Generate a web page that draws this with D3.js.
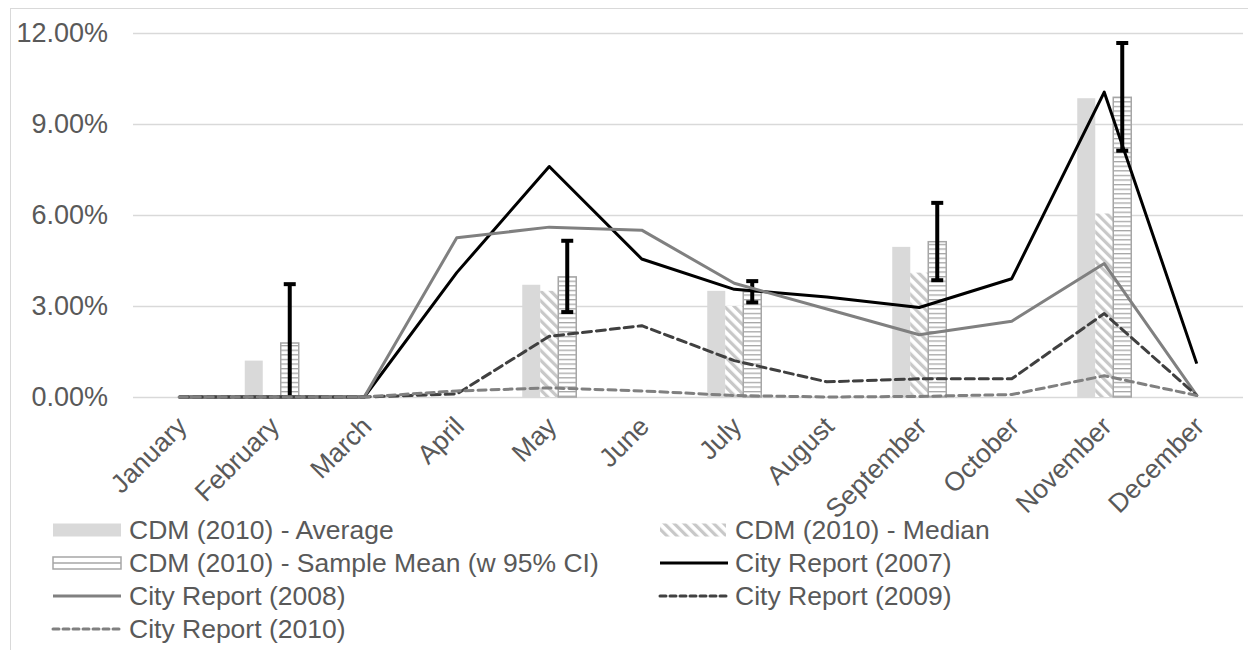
<!DOCTYPE html>
<html>
<head>
<meta charset="utf-8">
<script src="https://cdn.jsdelivr.net/npm/d3@7"></script>
<style>
  html, body { margin: 0; padding: 0; background: #fff; }
  svg { display: block; }
  text { font-family: "Liberation Sans", Arial, sans-serif; fill: #595959; }
</style>
</head>
<body>
<svg id="chart" width="1248" height="650"></svg>
<script>
// Monthly shares (%) by source
const months = ["January", "February", "March", "April", "May", "June", "July",
  "August", "September", "October", "November", "December"];

const cdmAverage    = [0, 1.2, 0, 0, 3.7, 0, 3.5, 0, 4.95, 0, 9.85, 0];
const cdmMedian     = [0, 0, 0, 0, 3.5, 0, 3.0, 0, 4.1, 0, 6.05, 0];
const cdmSampleMean = [0, 1.78, 0, 0, 3.96, 0, 3.47, 0, 5.12, 0, 9.88, 0];
const ciLower       = [null, 0, null, null, 2.8, null, 3.12, null, 3.85, null, 8.12, null];
const ciUpper       = [null, 3.72, null, null, 5.15, null, 3.82, null, 6.4, null, 11.67, null];

const city2007 = [0, 0, 0, 4.1, 7.6, 4.55, 3.55, 3.3, 2.95, 3.9, 10.05, 1.1];
const city2008 = [0, 0, 0, 5.25, 5.6, 5.5, 3.75, 2.9, 2.05, 2.5, 4.4, 0.05];
const city2009 = [0, 0, 0, 0.1, 2.0, 2.35, 1.2, 0.5, 0.6, 0.6, 2.75, 0.05];
const city2010 = [0, 0, 0, 0.2, 0.3, 0.2, 0.05, 0, 0.02, 0.08, 0.7, 0.05];

const yTicks = [0, 3, 6, 9, 12];

const svg = d3.select("#chart");
const FONT = 26.5;

// chart frame
svg.append("rect")
  .attr("x", 10.5).attr("y", 8.5).attr("width", 1250).attr("height", 660)
  .attr("fill", "none").attr("stroke", "#d9d9d9").attr("stroke-width", 1);

const plot = { left: 133, right: 1243, top: 33, bottom: 397 };

const x = d3.scaleBand().domain(months).range([plot.left, plot.right]).padding(0);
const y = d3.scaleLinear().domain([0, 12]).range([plot.bottom, plot.top]);

const barKeys = ["avg", "med", "mean"];
const x1 = d3.scaleBand().domain(barKeys).range([0, x.bandwidth()])
  .paddingInner(0).paddingOuter(1.07);

// fill patterns
const defs = svg.append("defs");
const hatch = defs.append("pattern")
  .attr("id", "hatchMedian").attr("patternUnits", "userSpaceOnUse")
  .attr("width", 7).attr("height", 7)
  .attr("patternTransform", "rotate(-45)");
hatch.append("rect").attr("width", 7).attr("height", 7).attr("fill", "#fff");
hatch.append("rect").attr("x", 0).attr("y", 0).attr("width", 3.2).attr("height", 7).attr("fill", "#c8c8c8");

const hlines = defs.append("pattern")
  .attr("id", "hlinesMean").attr("patternUnits", "userSpaceOnUse")
  .attr("width", 8).attr("height", 4.6);
hlines.append("rect").attr("width", 8).attr("height", 4.6).attr("fill", "#fff");
hlines.append("rect").attr("y", 0).attr("width", 8).attr("height", 1.3).attr("fill", "#a6a6a6");

// gridlines
svg.append("g").selectAll("line").data(yTicks).join("line")
  .attr("x1", plot.left).attr("x2", plot.right)
  .attr("y1", d => Math.round(y(d)) + 0.5).attr("y2", d => Math.round(y(d)) + 0.5)
  .attr("stroke", "#d9d9d9").attr("stroke-width", 1.5);

// y axis labels
const yAxis = d3.axisLeft(y).tickValues(yTicks).tickSize(0).tickPadding(0)
  .tickFormat(d => d.toFixed(2) + "%");
const gy = svg.append("g").attr("transform", `translate(108,0)`).call(yAxis);
gy.select(".domain").remove();
gy.selectAll("text").attr("font-size", 27).attr("fill", "#595959")
  .style("font-family", "'Liberation Sans', Arial, sans-serif");

// x axis labels (rotated)
const xAxis = d3.axisBottom(x).tickSize(0).tickPadding(0);
const gx = svg.append("g").attr("transform", `translate(0,${plot.bottom})`).call(xAxis);
gx.select(".domain").remove();
gx.selectAll("text")
  .attr("font-size", FONT).attr("fill", "#595959")
  .style("font-family", "'Liberation Sans', Arial, sans-serif")
  .attr("text-anchor", "end")
  .attr("dy", 0).attr("y", 0)
  .attr("transform", "translate(9,31) rotate(-45)");

// bars
const barSeries = [
  { key: "avg", values: cdmAverage, fill: "#d9d9d9", stroke: "none" },
  { key: "med", values: cdmMedian, fill: "url(#hatchMedian)", stroke: "none" },
  { key: "mean", values: cdmSampleMean, fill: "url(#hlinesMean)", stroke: "#a6a6a6" }
];
const gBars = svg.append("g");
barSeries.forEach(s => {
  gBars.append("g").selectAll("rect")
    .data(s.values.map((v, i) => ({ v, m: months[i] })).filter(d => d.v > 0))
    .join("rect")
    .attr("x", d => x(d.m) + x1(s.key))
    .attr("width", x1.bandwidth())
    .attr("y", d => y(d.v))
    .attr("height", d => y(0) - y(d.v))
    .attr("fill", s.fill)
    .attr("stroke", s.stroke)
    .attr("stroke-width", s.stroke === "none" ? 0 : 1.5);
});

// 95% CI error bars on the sample mean
const errData = months.map((m, i) => ({ m, lo: ciLower[i], hi: ciUpper[i] }))
  .filter(d => d.lo !== null);
const gErr = svg.append("g").attr("stroke", "#000").attr("stroke-width", 4);
const cx = d => x(d.m) + x1("mean") + x1.bandwidth() / 2;
gErr.selectAll("line.v").data(errData).join("line").attr("class", "v")
  .attr("x1", cx).attr("x2", cx).attr("y1", d => y(d.lo)).attr("y2", d => y(d.hi));
gErr.selectAll("line.hi").data(errData).join("line").attr("class", "hi")
  .attr("x1", d => cx(d) - 6).attr("x2", d => cx(d) + 6)
  .attr("y1", d => y(d.hi)).attr("y2", d => y(d.hi));
gErr.selectAll("line.lo").data(errData.filter(d => d.lo > 0)).join("line").attr("class", "lo")
  .attr("x1", d => cx(d) - 6).attr("x2", d => cx(d) + 6)
  .attr("y1", d => y(d.lo)).attr("y2", d => y(d.lo));

// city report lines
const lineSeries = [
  { name: "City Report (2007)", values: city2007, color: "#000000", dash: null },
  { name: "City Report (2008)", values: city2008, color: "#808080", dash: null },
  { name: "City Report (2009)", values: city2009, color: "#404040", dash: "9,5" },
  { name: "City Report (2010)", values: city2010, color: "#808080", dash: "8,5" }
];
const line = d3.line()
  .x((d, i) => x(months[i]) + x.bandwidth() / 2)
  .y(d => y(d));
const gLines = svg.append("g");
lineSeries.forEach(s => {
  gLines.append("path")
    .attr("d", line(s.values))
    .attr("fill", "none")
    .attr("stroke", s.color)
    .attr("stroke-width", 3)
    .attr("stroke-linejoin", "round")
    .attr("stroke-linecap", s.dash ? "round" : "butt")
    .attr("stroke-dasharray", s.dash);
});

// legend
const legendItems = [
  { label: "CDM (2010) - Average", type: "bar", key: "avg", sx: 53, sw: 68, tx: 129, y: 530 },
  { label: "CDM (2010) - Median", type: "bar", key: "med", sx: 660, sw: 66, tx: 735, y: 530 },
  { label: "CDM (2010) - Sample Mean (w 95% CI)", type: "bar", key: "mean", sx: 53, sw: 68, tx: 129, y: 563 },
  { label: "City Report (2007)", type: "line", color: "#000000", dash: null, sx: 660, sw: 68, tx: 735, y: 563 },
  { label: "City Report (2008)", type: "line", color: "#808080", dash: null, sx: 53, sw: 68, tx: 129, y: 596 },
  { label: "City Report (2009)", type: "line", color: "#404040", dash: "6,4", sx: 660, sw: 68, tx: 735, y: 596 },
  { label: "City Report (2010)", type: "line", color: "#808080", dash: "6,4", sx: 53, sw: 68, tx: 129, y: 629 }
];
const gLeg = svg.append("g");
legendItems.forEach(it => {
  if (it.type === "bar") {
    if (it.key === "mean") {
      // outlined swatch split by a single rule
      gLeg.append("rect")
        .attr("x", it.sx).attr("y", it.y - 6).attr("width", it.sw).attr("height", 12)
        .attr("fill", "#fff").attr("stroke", "#a6a6a6").attr("stroke-width", 1.5);
      gLeg.append("line")
        .attr("x1", it.sx).attr("x2", it.sx + it.sw)
        .attr("y1", it.y).attr("y2", it.y)
        .attr("stroke", "#a6a6a6").attr("stroke-width", 1.5);
    } else {
      const s = barSeries.find(b => b.key === it.key);
      gLeg.append("rect")
        .attr("x", it.sx).attr("y", it.y - 6.5).attr("width", it.sw).attr("height", 13)
        .attr("fill", s.fill);
    }
  } else {
    gLeg.append("line")
      .attr("x1", it.sx).attr("x2", it.sx + it.sw)
      .attr("y1", it.y).attr("y2", it.y)
      .attr("stroke", it.color).attr("stroke-width", 3)
      .attr("stroke-linecap", it.dash ? "round" : "butt")
      .attr("stroke-dasharray", it.dash);
  }
  gLeg.append("text")
    .attr("x", it.tx).attr("y", it.y)
    .attr("dy", "0.35em")
    .attr("font-size", FONT)
    .text(it.label);
});
</script>
</body>
</html>
